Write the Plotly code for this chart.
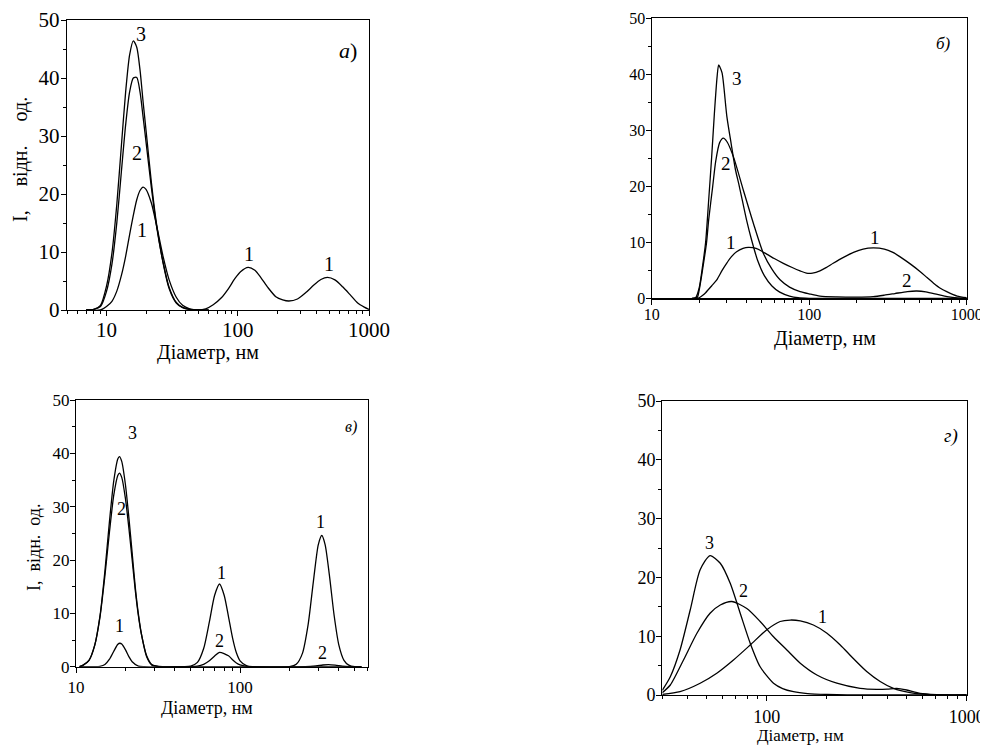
import math
import plotly.graph_objects as go

# ---------------- DATA ----------------
# Panel а)
a_x3 = [7, 8, 9, 10, 11, 12, 13, 14, 15, 16, 17, 18, 19, 20, 22, 24, 27, 30, 34, 38, 43, 50, 60]
a_y3 = [0, 0.1, 0.8, 4.1, 9.8, 18.4, 28.5, 37.7, 44.0, 46.4, 45.3, 41.4, 35.9, 31.0, 21.9, 15.0, 8.1, 3.7, 1.2, 0.4, 0.1, 0, 0]
a_x2 = [7, 8, 9, 10, 11, 12, 13, 14, 15, 16, 17, 18, 19, 20, 22, 24, 27, 30, 34, 38, 43, 50, 60]
a_y2 = [0, 0.1, 0.6, 3.2, 7.9, 15.2, 24.0, 32.0, 37.6, 40.0, 40.1, 37.6, 33.3, 29.0, 21.0, 14.6, 8.2, 3.9, 1.3, 0.45, 0.1, 0, 0]
a_x1 = [7, 9, 10, 11, 12, 13, 14, 15, 16, 17, 18, 19, 20, 22, 24, 27, 30, 34, 38, 43, 50,
        57, 65, 75, 85, 95, 105, 120, 135, 150, 170, 195, 220, 245, 285, 330, 380, 430, 483,
        550, 630, 720, 820, 920, 1000]
a_y1 = [0, 0, 0.6, 1.5, 3.3, 6.0, 9.3, 13.0, 16.3, 19.0, 20.6, 21.2, 20.8, 18.4, 14.7, 9.2, 5.2, 2.2, 0.8, 0.2, 0,
        0.2, 0.9, 2.1, 3.7, 5.4, 6.6, 7.35, 6.85, 5.6, 3.85, 2.3, 1.75, 1.55, 1.9, 3.0, 4.3, 5.25, 5.63,
        5.2, 4.0, 2.6, 1.2, 0.5, 0.1]

# Panel б)
b_x3 = [18, 19, 20, 21, 22, 23, 24, 25, 26, 26.6, 27, 28, 30, 32, 34, 36, 40, 43, 47, 52, 58, 65, 75, 85, 100, 200, 1000]
b_y3 = [0, 0.1, 1.8, 5.6, 10, 17.5, 25, 33, 39.5, 41.7, 41.4, 40.2, 32.5, 27.5, 23, 20, 14, 10.5, 6.8, 4.0, 2.2, 1.1, 0.4, 0.1, 0, 0, 0]
b_x2 = [18, 19.5, 20, 21, 22.3, 23, 24.4, 25.5, 27, 28.5, 30, 33, 38.2, 44.2, 51.2, 58, 65.3, 75, 87.5, 100, 117, 150,
        200, 255, 300, 350, 420, 482, 550, 650, 750, 870, 1000]
b_y2 = [0, 0.2, 1.4, 5.0, 10, 14, 20, 24.5, 27.8, 28.6, 28.0, 25.3, 19.3, 13.4, 8.0, 5.2, 3.3, 2.0, 1.2, 0.8, 0.4, 0.25,
        0.2, 0.3, 0.55, 0.85, 1.2, 1.3, 1.15, 0.7, 0.3, 0.05, 0]
b_x1 = [19, 20, 21, 22, 24, 25.9, 28, 29.9, 32, 34.6, 38, 41, 46, 53.7, 60, 68.5, 78, 87.5, 96, 105, 117, 130, 142,
        165, 191, 220, 255, 300, 340, 378, 440, 505, 560, 616, 680, 747, 870, 1000]
b_y1 = [0, 0.1, 0.5, 1.0, 2.2, 3.3, 5.0, 6.25, 7.4, 8.3, 8.9, 9.1, 8.9, 7.9, 7.1, 6.25, 5.5, 4.9, 4.5, 4.5, 4.9, 5.6, 6.25,
        7.3, 8.2, 8.8, 9.0, 8.8, 8.2, 7.4, 6.1, 4.8, 3.7, 2.7, 1.8, 1.2, 0.4, 0.1]

# Panel в)
c_x3 = [10.5, 11, 12, 13, 14, 15, 16, 17, 18, 18.4, 19, 20, 21, 22, 23, 24, 25, 27, 29, 32, 40, 550]
c_y3 = [0, 0.25, 1.2, 4.0, 9.5, 17.9, 27.3, 34.9, 39.0, 39.4, 38.5, 34.2, 28.0, 21.3, 14.8, 9.9, 6.3, 1.8, 0.3, 0, 0, 0]
c_x2 = [10.5, 11, 12, 13, 14, 15, 16, 17, 18, 18.4, 19, 20, 21, 22, 23, 24, 25, 27, 29, 32, 40,
        50, 55, 60, 65, 70, 75, 85, 90, 95, 100, 110, 120,
        250, 290, 320, 346, 380, 420, 460, 500, 550]
c_y2 = [0, 0.25, 1.2, 4.0, 9.3, 17.0, 25.3, 32.2, 35.9, 36.3, 35.5, 31.6, 26.0, 20.0, 14.2, 9.6, 6.2, 2.0, 0.4, 0.05, 0,
        0.02, 0.1, 0.45, 1.1, 2.0, 2.7, 2.05, 1.3, 0.7, 0.34, 0.06, 0,
        0, 0.15, 0.32, 0.4, 0.3, 0.12, 0.02, 0, 0]
c_x1 = [10.5, 13, 14, 15, 16, 17, 18, 18.5, 19, 20, 21, 22, 24, 26,
        45, 50, 55, 60, 65, 70, 75, 80, 85, 90, 95, 100, 110, 120,
        200, 220, 240, 260, 280, 300, 315, 330, 350, 375, 400, 430, 460, 500, 550]
c_y1 = [0, 0, 0.07, 0.4, 1.4, 2.9, 4.2, 4.4, 4.25, 3.2, 1.9, 0.93, 0.12, 0,
        0, 0.1, 0.8, 3.4, 8.4, 13.4, 15.5, 13.4, 9.4, 5.4, 2.6, 1.1, 0.15, 0,
        0, 0.44, 2.5, 7.9, 16.0, 22.9, 24.6, 22.9, 17.3, 9.5, 4.1, 1.2, 0.3, 0, 0]

# Panel г)
d_x3 = [30, 32.9, 36.8, 41.4, 46.4, 52, 58.5, 65.6, 73.6, 82.6, 92.6, 108, 120, 136, 160, 200, 300, 1000]
d_y3 = [0.8, 3.1, 7.65, 14.5, 21.3, 23.7, 22.4, 19.0, 13.9, 8.8, 4.8, 2.0, 1.1, 0.57, 0.25, 0.1, 0, 0]
d_x2 = [30, 32.9, 38.3, 44.7, 52, 58.5, 66.8, 79.4, 92.6, 108, 126, 147, 178, 224, 293, 355, 400, 447, 501, 585, 708, 800, 1000]
d_y2 = [0.4, 1.7, 5.95, 10.5, 13.9, 15.3, 15.9, 14.7, 12.5, 9.9, 7.65, 5.4, 3.4, 2.0, 1.13, 0.96, 1.0, 1.13, 0.85, 0.28, 0.06, 0, 0]
d_x1 = [30, 36.8, 46.4, 56.2, 68.1, 82.6, 100, 116.6, 131, 147, 171, 200, 233, 271, 316, 369, 430, 521, 631, 750, 1000]
d_y1 = [0.1, 0.57, 2.0, 3.7, 5.95, 8.5, 11.1, 12.5, 12.75, 12.6, 11.9, 10.5, 8.5, 6.2, 4.0, 2.3, 1.13, 0.4, 0.1, 0, 0]

y_ticks = [0, 10, 20, 30, 40, 50]
y_tick_text = ["0", "10", "20", "30", "40", "50"]
x_title = "Діаметр, нм"
y_title = "I,\u2003\u2009відн.\u2003\u2009од."
y_title_c = "I,\u2002відн.\u2002од."

# ---------------- LAYOUT ----------------
W, H = 988, 746
OFF = 8  # the page body has an 8px margin; positions below are screen pixels
FONT = "Liberation Serif, DejaVu Serif, serif"


def fx(px):
    return (px - OFF) / W


def fy(py):
    return 1 - (py - OFF) / H


panels = [
    dict(series=[(a_x1, a_y1), (a_x2, a_y2), (a_x3, a_y3)], px=(67, 369), py=(20, 310), xr=(5, 1000),
         xt=[10, 100, 1000], tf=21, lf=20, xso=-4,
         labels=[("3", 18.2, 47.6), ("2", 17.1, 27), ("1", 18.7, 13.8), ("1", 122, 9.6), ("1", 498, 7.9)],
         tag=("<i>а</i>)", 695, 44.7, 22),
         xtitle=(208, 352, 20), ytitle=(20, 160, 20, y_title)),
    dict(series=[(b_x1, b_y1), (b_x2, b_y2), (b_x3, b_y3)], px=(651.7, 966.7), py=(18.3, 298.3), xr=(10, 1000),
         xt=[10, 100, 1000], tf=16, lf=19, xso=-4,
         labels=[("3", 34.7, 39.3), ("2", 29.6, 24), ("1", 31.8, 9.9), ("1", 262, 10.9), ("2", 420, 3.1)],
         tag=("<i>б)</i>", 708, 45.5, 17),
         xtitle=(825, 338, 20), ytitle=None),
    dict(series=[(c_x1, c_y1), (c_x2, c_y2), (c_x3, c_y3)], px=(76, 367.7), py=(400, 666.7), xr=(10, 600),
         xt=[10, 100], tf=17, lf=18, xso=0,
         labels=[("3", 22, 43.9), ("2", 19, 29.5), ("1", 18.3, 7.6), ("1", 77.3, 17.5), ("2", 74.8, 4.9),
                 ("1", 308, 27.2), ("2", 319, 2.6)],
         tag=("<i>в)</i>", 473, 45, 16),
         xtitle=(207, 708, 18), ytitle=(34, 548, 18, y_title_c)),
    dict(series=[(d_x1, d_y1), (d_x2, d_y2), (d_x3, d_y3)], px=(662.3, 966.7), py=(401, 695), xr=(30, 1000),
         xt=[100, 1000], tf=18, lf=18, xso=0,
         labels=[("3", 51.6, 25.8), ("2", 76.5, 17.7), ("1", 190.5, 13.2)],
         tag=("<i>г)</i>", 833, 44, 19),
         xtitle=(800, 735, 17), ytitle=None),
]

fig = go.Figure()
annotations = []
layout = {}

for i, p in enumerate(panels, start=1):
    xa = "x" if i == 1 else f"x{i}"
    ya = "y" if i == 1 else f"y{i}"
    for xs, ys in p["series"]:
        fig.add_trace(go.Scatter(x=xs, y=ys, mode="lines", xaxis=xa, yaxis=ya,
                                 line=dict(color="black", width=1.3, shape="spline", smoothing=0.7),
                                 showlegend=False, hoverinfo="skip"))
    lo, hi = p["xr"]
    minor_x = [m * 10 ** k for k in range(0, 4) for m in range(2, 10) if lo <= m * 10 ** k <= hi]
    xkey = "xaxis" if i == 1 else f"xaxis{i}"
    ykey = "yaxis" if i == 1 else f"yaxis{i}"
    layout[xkey] = dict(
        domain=[fx(p["px"][0]), fx(p["px"][1])], anchor=ya, type="log", automargin=False,
        range=[math.log10(lo), math.log10(hi)], tickmode="array", tickvals=p["xt"],
        ticktext=[str(v) for v in p["xt"]], ticks="outside", ticklen=5, tickwidth=1, tickcolor="black",
        ticklabelstandoff=p["xso"],
        minor=dict(tickmode="array", tickvals=minor_x, ticks="outside", ticklen=3, tickcolor="black", showgrid=False),
        showline=True, linecolor="black", linewidth=1.2, mirror=True, showgrid=False, zeroline=False,
        tickfont=dict(family=FONT, size=p["tf"], color="black"), fixedrange=True)
    layout[ykey] = dict(
        domain=[fy(p["py"][1]), fy(p["py"][0])], anchor=xa, range=[0, 50], automargin=False,
        tickmode="array", tickvals=y_ticks, ticktext=y_tick_text, ticks="outside", ticklen=5,
        tickwidth=1, tickcolor="black", ticklabelstandoff=-3,
        minor=dict(tickmode="array", tickvals=[5, 15, 25, 35, 45], ticks="outside", ticklen=3,
                   tickcolor="black", showgrid=False),
        showline=True, linecolor="black", linewidth=1.2, mirror=True, showgrid=False, zeroline=False,
        tickfont=dict(family=FONT, size=p["tf"], color="black"), fixedrange=True)
    for txt, lx, ly in p["labels"]:
        annotations.append(dict(text=txt, x=math.log10(lx), y=ly, xref=xa, yref=ya, showarrow=False,
                                font=dict(family=FONT, size=p["lf"], color="black")))
    t, tx, ty, ts = p["tag"]
    annotations.append(dict(text=t, x=math.log10(tx), y=ty, xref=xa, yref=ya, showarrow=False,
                            font=dict(family=FONT, size=ts, color="black")))
    cx, cy, cs = p["xtitle"]
    annotations.append(dict(text=x_title, x=fx(cx), y=fy(cy), xref="paper", yref="paper",
                            showarrow=False, xanchor="center", yanchor="middle",
                            font=dict(family=FONT, size=cs, color="black")))
    if p["ytitle"]:
        vx, vy, vs, vt = p["ytitle"]
        annotations.append(dict(text=vt, x=fx(vx), y=fy(vy), xref="paper", yref="paper",
                                showarrow=False, textangle=-90, xanchor="center", yanchor="middle",
                                font=dict(family=FONT, size=vs, color="black")))

fig.update_layout(template="none", width=W, height=H, autosize=False,
                  margin=dict(l=0, r=0, t=0, b=0, pad=0, autoexpand=False),
                  paper_bgcolor="white", plot_bgcolor="white", annotations=annotations, **layout)

fig.write_html("out.html", config={"displayModeBar": False, "staticPlot": True})
